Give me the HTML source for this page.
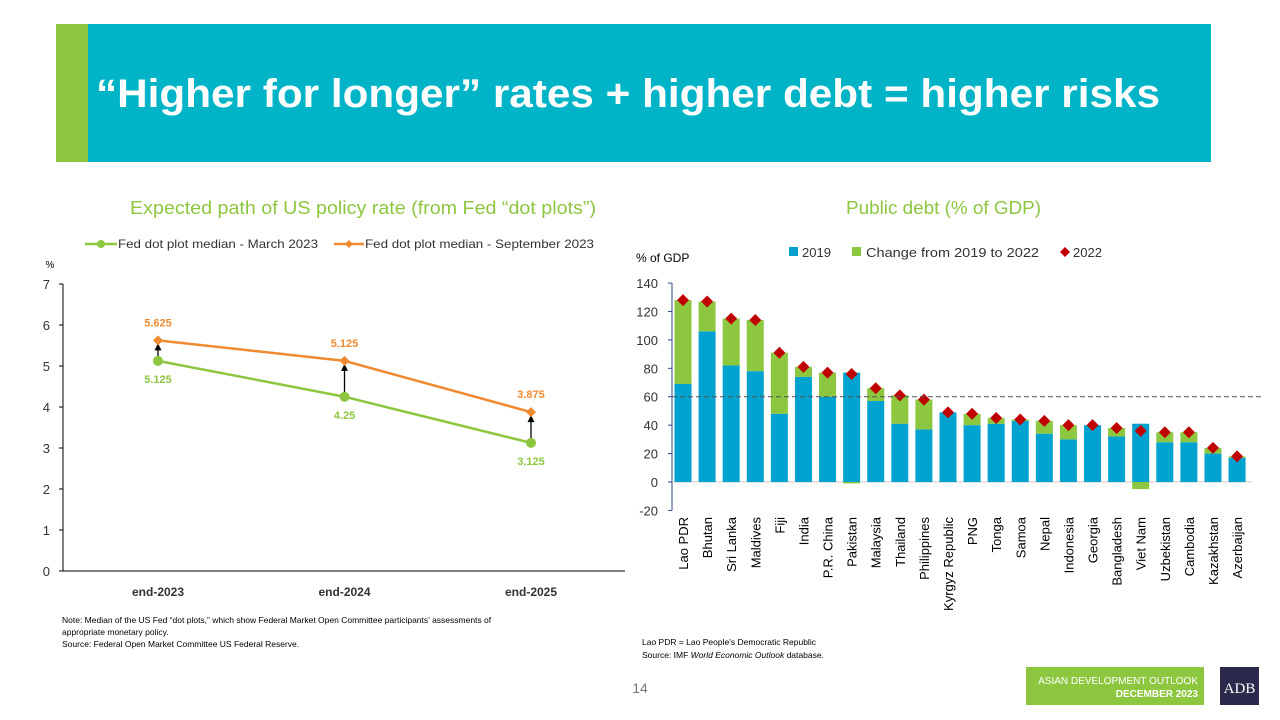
<!DOCTYPE html>
<html><head><meta charset="utf-8"><style>
body{margin:0;width:1280px;height:720px;background:#fff;font-family:"Liberation Sans",sans-serif;overflow:hidden;position:relative}
</style></head><body>
<div style="position:absolute;left:56px;top:24px;width:1155px;height:138px;background:#00b4c8"></div>
<div style="position:absolute;left:56px;top:24px;width:32px;height:138px;background:#8dc63f"></div>
<svg width="1280" height="720" style="position:absolute;left:0;top:0"><text x="96" y="107" textLength="1064" lengthAdjust="spacingAndGlyphs" font-family="Liberation Sans, sans-serif" font-weight="bold" font-size="40" fill="#fff">“Higher for longer” rates + higher debt = higher risks</text></svg>
<svg id="svg" width="1280" height="720" style="position:absolute;left:0;top:0" font-family="Liberation Sans, sans-serif">
<text x="130" y="214" textLength="466" lengthAdjust="spacingAndGlyphs" font-size="18" fill="#8dc63f">Expected path of US policy rate (from Fed “dot plots”)</text>
<text x="846" y="214" textLength="195" lengthAdjust="spacingAndGlyphs" font-size="18" fill="#8dc63f">Public debt (% of GDP)</text>
<g id="lc"></g><g id="bc"></g>
<text font-size="8.5" fill="#000"><tspan x="62" y="623">Note: Median of the US Fed “dot plots,” which show Federal Market Open Committee participants’ assessments of</tspan><tspan x="62" y="635">appropriate monetary policy.</tspan><tspan x="62" y="647">Source: Federal Open Market Committee US Federal Reserve.</tspan></text>
<text font-size="8.5" fill="#000"><tspan x="642" y="645">Lao PDR = Lao People’s Democratic Republic</tspan><tspan x="642" y="658">Source: IMF <tspan font-style="italic">World Economic Outlook</tspan> database.</tspan></text>
<text x="640" y="693" text-anchor="middle" font-size="14" fill="#777">14</text>
<rect x="1026" y="667" width="178" height="38" fill="#8dc63f"/>
<text x="1198" y="684" text-anchor="end" font-size="10" fill="#fff">ASIAN DEVELOPMENT OUTLOOK</text>
<text x="1198" y="697" text-anchor="end" font-size="10" font-weight="bold" fill="#fff">DECEMBER 2023</text>
<rect x="1220" y="667" width="39" height="38" fill="#2b2a4c"/>
<text x="1239.5" y="693" text-anchor="middle" font-size="15" font-family="Liberation Serif, serif" fill="#fff">ADB</text>
</svg>
<script>
const NS="http://www.w3.org/2000/svg";
function mk(p,t,a){const e=document.createElementNS(NS,t);for(const k in a)e.setAttribute(k,a[k]);p.appendChild(e);return e;}
// ---- line chart
const lcCats=["end-2023","end-2024","end-2025"];
const lcMarch=[5.125,4.25,3.125];
const lcSept=[5.625,5.125,3.875];
const lcMarchLbl=["5.125","4.25","3.125"];
const lcSeptLbl=["5.625","5.125","3.875"];
const lcTicks=[0,1,2,3,4,5,6,7];
const lc=document.getElementById('lc');
const lx=i=>158+i*186.5, ly=v=>571-v*41;
let e;
e=mk(lc,'line',{x1:63,y1:ly(0),x2:63,y2:ly(7),stroke:'#000','stroke-width':1});

e=mk(lc,'line',{x1:63,y1:ly(0),x2:625,y2:ly(0),stroke:'#000','stroke-width':1});

lcTicks.forEach(t=>{mk(lc,'line',{x1:59,y1:ly(t),x2:63,y2:ly(t),stroke:'#000'});
e=mk(lc,'text',{x:50,y:ly(t)+5,'text-anchor':'end','font-size':13,fill:'#333'});e.textContent=t;
});
e=mk(lc,'text',{x:50,y:268,'text-anchor':'middle','font-size':10,fill:'#000'});e.textContent='%';

lcCats.forEach((c,i)=>{e=mk(lc,'text',{x:lx(i),y:596,'text-anchor':'middle','font-size':12,'font-weight':'bold',fill:'#333'});e.textContent=c;
});
e=mk(lc,'polyline',{points:lcMarch.map((v,i)=>lx(i)+','+ly(v)).join(' '),fill:'none',stroke:'#8dc63f','stroke-width':2.5});

e=mk(lc,'polyline',{points:lcSept.map((v,i)=>lx(i)+','+ly(v)).join(' '),fill:'none',stroke:'#f08a30','stroke-width':2.5});

lcMarch.forEach((v,i)=>{
 const s=lcSept[i];
 e=mk(lc,'line',{x1:lx(i),y1:ly(v)-4,x2:lx(i),y2:ly(s)+9,stroke:'#000','stroke-width':1.3});
 
 mk(lc,'polygon',{points:`${lx(i)-3.5},${ly(s)+10} ${lx(i)+3.5},${ly(s)+10} ${lx(i)},${ly(s)+3}`,fill:'#000'});
 e=mk(lc,'circle',{cx:lx(i),cy:ly(v),r:5,fill:'#8dc63f'});
 
 e=mk(lc,'polygon',{points:`${lx(i)},${ly(s)-5} ${lx(i)+5},${ly(s)} ${lx(i)},${ly(s)+5} ${lx(i)-5},${ly(s)}`,fill:'#f08a30'});
 
 e=mk(lc,'text',{x:lx(i),y:ly(v)+22,'text-anchor':'middle','font-size':11,'font-weight':'bold',fill:'#8dc63f'});e.textContent=lcMarchLbl[i];
 
 e=mk(lc,'text',{x:lx(i),y:ly(s)-14,'text-anchor':'middle','font-size':11,'font-weight':'bold',fill:'#f08a30'});e.textContent=lcSeptLbl[i];
 
});
// legend
e=mk(lc,'line',{x1:85,y1:244,x2:117,y2:244,stroke:'#8dc63f','stroke-width':2.5});

mk(lc,'circle',{cx:101,cy:244,r:4,fill:'#8dc63f'});
e=mk(lc,'text',{x:118,y:248,'font-size':12,fill:'#333',textLength:200,lengthAdjust:'spacingAndGlyphs'});e.textContent='Fed dot plot median - March 2023';

e=mk(lc,'line',{x1:334,y1:244,x2:364,y2:244,stroke:'#f08a30','stroke-width':2.5});

mk(lc,'polygon',{points:'349,240 353,244 349,248 345,244',fill:'#f08a30'});
e=mk(lc,'text',{x:365,y:248,'font-size':12,fill:'#333',textLength:229,lengthAdjust:'spacingAndGlyphs'});e.textContent='Fed dot plot median - September 2023';


// ---- bar chart
const bcCats=["Lao PDR","Bhutan","Sri Lanka","Maldives","Fiji","India","P.R. China","Pakistan","Malaysia","Thailand","Philippines","Kyrgyz Republic","PNG","Tonga","Samoa","Nepal","Indonesia","Georgia","Bangladesh","Viet Nam","Uzbekistan","Cambodia","Kazakhstan","Azerbaijan"];
const debt2019=[69,106,82,78,48,74,60,77,57,41,37,49,40,41,43,34,30,40,32,41,28,28,20,17];
const debt2022=[128,127,115,114,91,81,77,76,66,61,58,49,48,45,44,43,40,40,38,36,35,35,24,18];
const bcTicks=[-20,0,20,40,60,80,100,120,140];
const bc=document.getElementById('bc');
const bx=i=>683+i*24.09, by=v=>482-v*1.421;
e=mk(bc,'line',{x1:672,y1:by(-20),x2:672,y2:by(140),stroke:'#2f4a8a','stroke-width':1});

bcTicks.forEach(t=>{mk(bc,'line',{x1:668,y1:by(t),x2:672,y2:by(t),stroke:'#2f4a8a'});
e=mk(bc,'text',{x:658,y:by(t)+5,'text-anchor':'end','font-size':13,fill:'#333'});e.textContent=t;
});
e=mk(bc,'text',{x:636,y:262,'font-size':12,fill:'#000'});e.textContent='% of GDP';

e=mk(bc,'line',{x1:672,y1:by(0),x2:1252,y2:by(0),stroke:'#ccc'});

const bw=17;
bcCats.forEach((c,i)=>{
 const b=debt2019[i],d=debt2022[i]-b,x=bx(i)-bw/2;
 e=mk(bc,'rect',{x:x,y:by(b),width:bw,height:by(0)-by(b),fill:'#00a3d0'});
 
 let g;
 if(d>=0) g=mk(bc,'rect',{x:x,y:by(b+d),width:bw,height:by(b)-by(b+d),fill:'#8dc63f'});
 else g=mk(bc,'rect',{x:x,y:by(0),width:bw,height:by(d)-by(0),fill:'#8dc63f'});
 
 const v=debt2022[i],cy=by(v);
 e=mk(bc,'polygon',{points:`${bx(i)},${cy-6} ${bx(i)+6},${cy} ${bx(i)},${cy+6} ${bx(i)-6},${cy}`,fill:'#c00000'});
 
 e=mk(bc,'text',{x:0,y:0,'text-anchor':'end','font-size':13,fill:'#000',transform:`translate(${bx(i)+5},${517}) rotate(-90)`});e.textContent=c;
 
});
e=mk(bc,'line',{x1:672,y1:by(60),x2:1262,y2:by(60),stroke:'#555','stroke-dasharray':'5,3'});

// legend
e=mk(bc,'rect',{x:789,y:247,width:9,height:9,fill:'#00a3d0'});

e=mk(bc,'text',{x:802,y:257,'font-size':13,fill:'#333'});e.textContent='2019';

e=mk(bc,'rect',{x:852,y:247,width:9,height:9,fill:'#8dc63f'});

e=mk(bc,'text',{x:866,y:257,'font-size':13,fill:'#333',textLength:173,lengthAdjust:'spacingAndGlyphs'});e.textContent='Change from 2019 to 2022';

e=mk(bc,'polygon',{points:'1065,247 1070,252 1065,257 1060,252',fill:'#c00000'});

e=mk(bc,'text',{x:1073,y:257,'font-size':13,fill:'#333'});e.textContent='2022';

</script>
</body></html>
